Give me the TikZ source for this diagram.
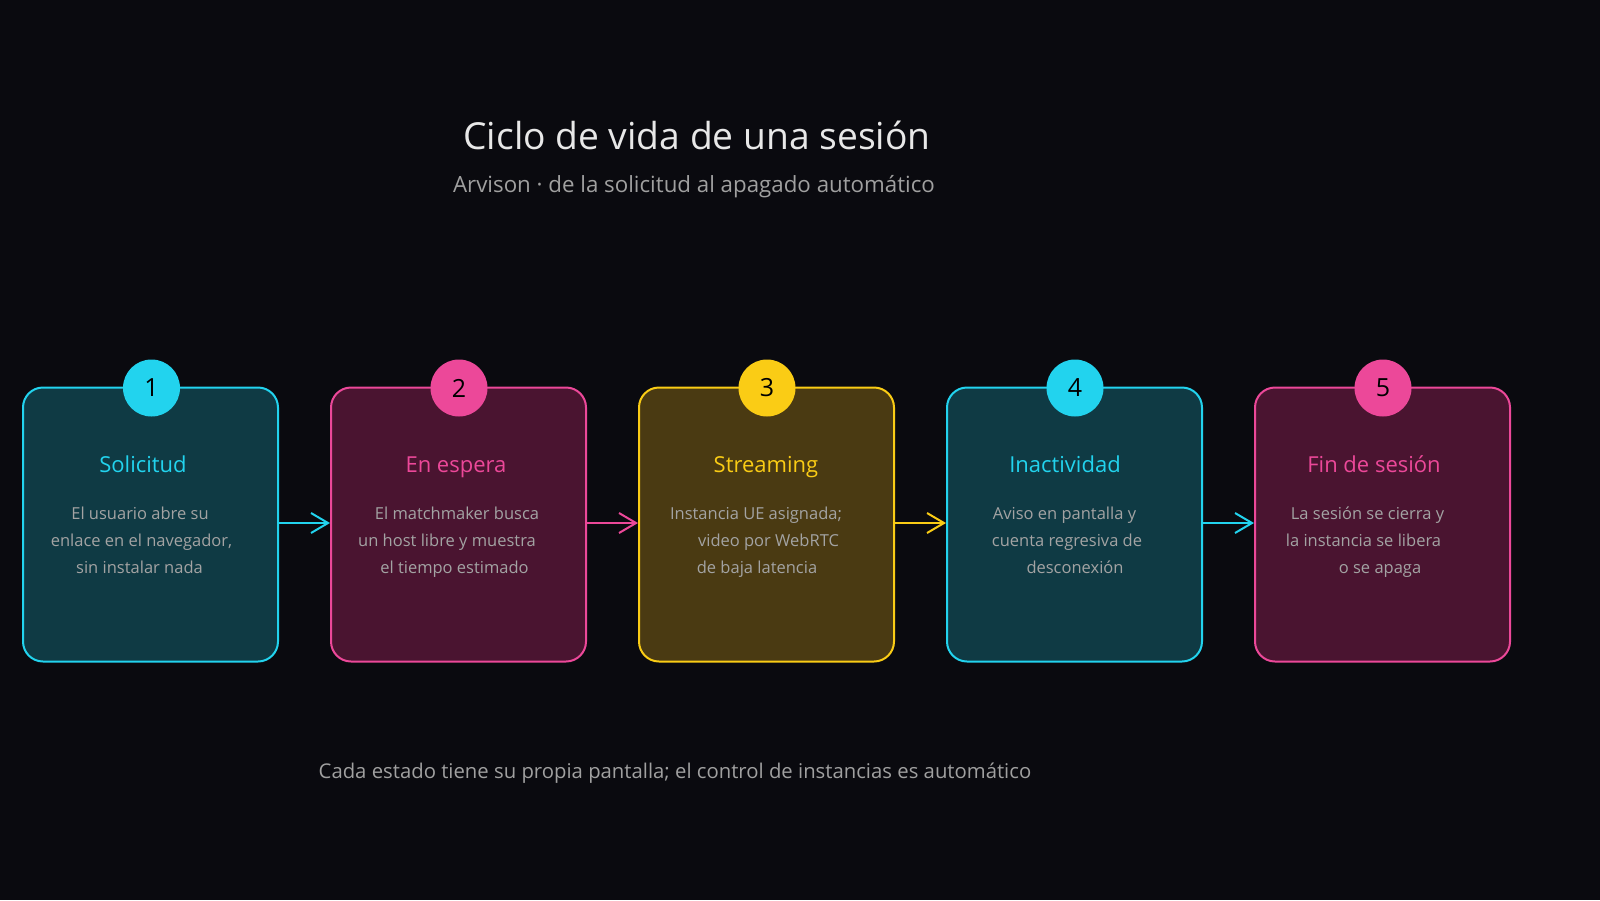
\documentclass[tikz,border=0pt]{standalone}
\usepackage{fontspec}
\setmainfont{Open Sans}
\usetikzlibrary{arrows.meta}
\definecolor{bgc}{HTML}{0A0A0F}
\definecolor{cy}{HTML}{22D3EE}
\definecolor{cyf}{HTML}{0F3A44}
\definecolor{pk}{HTML}{EC4899}
\definecolor{pkf}{HTML}{4A1430}
\definecolor{yl}{HTML}{FACC15}
\definecolor{ylf}{HTML}{4A3A12}
\definecolor{bodyc}{HTML}{A3A3A3}
\definecolor{titc}{HTML}{E8E8E8}
\definecolor{subc}{HTML}{A0A0A0}
\tikzset{
  card/.style={draw=#1, line width=2pt, rounded corners=20pt, minimum width=255pt, minimum height=274pt, inner sep=0pt},
  badge/.style={circle, fill=#1, minimum size=57pt, inner sep=0pt, font=\fontsize{25}{25}\selectfont, text=black},
  head/.style={anchor=base, text=#1, font=\fontsize{22}{22}\selectfont, inner sep=0pt},
  bodyline/.style={anchor=base, text=bodyc, font=\fontsize{16.5}{16.5}\selectfont, inner sep=0pt},
  flow/.style={draw=#1, line width=2pt, -{Straight Barb[length=17pt,width=20pt,line width=2pt]}},
}
\begin{document}
\begin{tikzpicture}[x=1pt,y=-1pt]
\fill[bgc] (0,0) rectangle (1600,900);
\useasboundingbox (0,0) rectangle (1600,900);

\node[text=titc, font=\fontsize{37.2}{37.2}\selectfont, anchor=base, inner sep=0pt] (title) at (697,149) {Ciclo de vida de una sesión};
\node[text=subc, font=\fontsize{22.3}{22.3}\selectfont, anchor=base, inner sep=0pt] (subtitle) at (694,192) {Arvison · de la solicitud al apagado automático};

% cards
\node[card=cy, fill=cyf] (c1) at (150.5,524.5) {};
\node[card=pk, fill=pkf] (c2) at (458.5,524.5) {};
\node[card=yl, fill=ylf] (c3) at (766.5,524.5) {};
\node[card=cy, fill=cyf] (c4) at (1074.5,524.5) {};
\node[card=pk, fill=pkf] (c5) at (1382.5,524.5) {};

% badges
\node[badge=cy] (b1) at (151.5,388) {1};
\node[badge=pk] (b2) at (459,388) {2};
\node[badge=yl] (b3) at (767,388) {3};
\node[badge=cy] (b4) at (1075,388) {4};
\node[badge=pk] (b5) at (1383,388) {5};

% headings
\node[head=cy] (h1) at (143,472) {Solicitud};
\node[head=pk] (h2) at (456,472) {En espera};
\node[head=yl] (h3) at (766,472) {Streaming};
\node[head=cy] (h4) at (1065,472) {Inactividad};
\node[head=pk] (h5) at (1374,472) {Fin de sesión};

% body text
\node[bodyline] (t11) at (140,519) {El usuario abre su};
\node[bodyline] (t12) at (141.5,546) {enlace en el navegador,};
\node[bodyline] (t13) at (139.5,573) {sin instalar nada};

\node[bodyline] (t21) at (457,519) {El matchmaker busca};
\node[bodyline] (t22) at (447,546) {un host libre y muestra};
\node[bodyline] (t23) at (454.5,573) {el tiempo estimado};

\node[bodyline] (t31) at (756,519) {Instancia UE asignada;};
\node[bodyline] (t32) at (768.5,546) {video por WebRTC};
\node[bodyline] (t33) at (757,573) {de baja latencia};

\node[bodyline] (t41) at (1064.5,519) {Aviso en pantalla y};
\node[bodyline] (t42) at (1067,546) {cuenta regresiva de};
\node[bodyline] (t43) at (1075,573) {desconexión};

\node[bodyline] (t51) at (1367.5,519) {La sesión se cierra y};
\node[bodyline] (t52) at (1363.5,546) {la instancia se libera};
\node[bodyline] (t53) at (1380,573) {o se apaga};

% arrows
\draw[flow=cy] (c1.east |- 0,523) -- (c2.west |- 0,523);
\draw[flow=pk] (c2.east |- 0,523) -- (c3.west |- 0,523);
\draw[flow=yl] (c3.east |- 0,523) -- (c4.west |- 0,523);
\draw[flow=cy] (c4.east |- 0,523) -- (c5.west |- 0,523);

\node[text=subc, font=\fontsize{20.3}{20.3}\selectfont, anchor=base, inner sep=0pt] (foot) at (675,778) {Cada estado tiene su propia pantalla; el control de instancias es automático};
\end{tikzpicture}
\end{document}
